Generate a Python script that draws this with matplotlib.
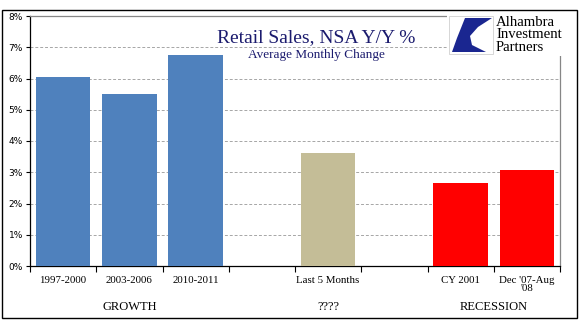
import matplotlib.pyplot as plt
from matplotlib.patches import Rectangle, Polygon
import numpy as np

# data (empty strings are the blank gap slots)
categories = ["1997-2000", "2003-2006", "2010-2011", "", "Last 5 Months", "", "CY 2001", "Dec '07-Aug\n'08"]
values = [6.05, 5.52, 6.75, np.nan, 3.63, np.nan, 2.67, 3.08]
colors = ["#4F81BD", "#4F81BD", "#4F81BD", "none", "#C4BD97", "none", "#FF0000", "#FF0000"]
groups = ["GROWTH", "????", "RECESSION"]
group_pos = [1.0, 4.0, 6.5]
yticks = [0, 1, 2, 3, 4, 5, 6, 7, 8]

W, H = 583, 324
fig = plt.figure(figsize=(W / 100, H / 100), dpi=100)
ax = fig.add_axes([30 / W, 1 - 266 / H, 530 / W, 250 / H])

x = np.arange(len(categories))
ax.bar(x, np.nan_to_num(values), width=0.82, color=colors, zorder=3)

ax.set_xlim(-0.5, len(categories) - 0.5)
ax.set_ylim(0, 8)
ax.set_yticks(yticks)
ax.set_yticklabels([f"{v}%" for v in yticks], fontsize=6.5, family="DejaVu Sans")
ax.set_xticks(x)
ax.set_xticklabels(categories, fontsize=7.8, family="Liberation Serif", linespacing=0.95)
ax.tick_params(axis="x", length=0, pad=7)
ax.set_xticks(np.arange(len(categories) + 1) - 0.5, minor=True)
ax.tick_params(axis="x", which="minor", length=4, direction="out", width=0.8)
ax.tick_params(axis="y", length=3, direction="out", width=0.8, pad=2)

for v in yticks[1:-1]:
    ax.axhline(v, color="#A6A6A6", lw=0.7, ls=(0, (3, 2)), zorder=1)
for s in ["top", "right"]:
    ax.spines[s].set_color("#868686")
    ax.spines[s].set_linewidth(0.9)
for s in ["left", "bottom"]:
    ax.spines[s].set_color("black")
    ax.spines[s].set_linewidth(0.9)

for g, p in zip(groups, group_pos):
    ax.text(p, -0.165, g, transform=ax.get_xaxis_transform(), ha="center", va="center",
            fontsize=9, family="Liberation Serif")

# titles
fig.text(316 / W, 1 - 38 / H, "Retail Sales, NSA Y/Y %", ha="center", va="center",
         fontsize=14, family="Liberation Serif", color="#1B1B6E")
fig.text(316 / W, 1 - 55 / H, "Average Monthly Change", ha="center", va="center",
         fontsize=9.5, family="Liberation Serif", color="#1B1B6E")

# logo block
fig.patches.append(Rectangle((447 / W, 1 - 56 / H), 120 / W, 44 / H, transform=fig.transFigure,
                             facecolor="white", edgecolor="none", zorder=5))
fig.patches.append(Rectangle((449 / W, 1 - 54 / H), 44 / W, 38 / H, transform=fig.transFigure,
                             facecolor="white", edgecolor="#D0D0D0", lw=0.6, zorder=6))
swoosh = [(465, 18), (492, 18), (478, 27), (470, 36), (472, 45), (486, 52), (452, 52), (457, 38)]
fig.patches.append(Polygon([(px / W, 1 - py / H) for px, py in swoosh], closed=True,
                           transform=fig.transFigure, facecolor="#1A2690", edgecolor="none", zorder=7))
for i, word in enumerate(["Alhambra", "Investment", "Partners"]):
    fig.text(496 / W, 1 - (22.5 + 12.3 * i) / H, word, ha="left", va="center", fontsize=10.6,
             family="Liberation Serif", color="black", zorder=8)

# outer border
fig.patches.append(Rectangle((2 / W, 1 - 318 / H), 575 / W, 308 / H, transform=fig.transFigure,
                             facecolor="none", edgecolor="black", lw=1.0, zorder=10))

fig.savefig("out.png", dpi=100)
